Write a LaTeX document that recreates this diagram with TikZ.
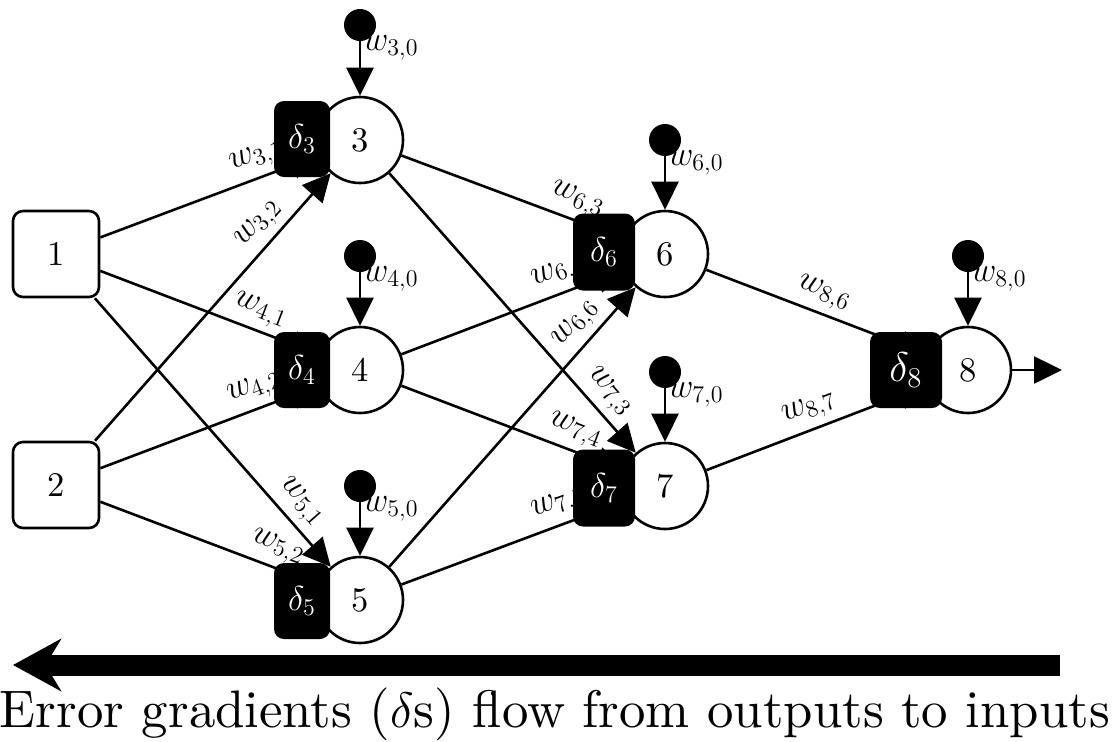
\documentclass[tikz,border=0pt]{standalone}
\usepackage{fontspec}
\setmainfont{lmroman10-regular.otf}
\usetikzlibrary{arrows.meta}
\begin{document}
\begin{tikzpicture}[x=0.5pt,y=-0.5pt,
  every node/.style={font=\LARGE},
  inbox/.style={draw,line width=1.3pt,rounded corners=5pt,minimum size=43pt,fill=white},
  neuron/.style={draw,circle,line width=1.3pt,minimum size=43pt,fill=white,inner sep=0pt},
  dbox/.style={fill=black,text=white,rounded corners=5pt,minimum width=28pt,minimum height=38pt,inner sep=0pt},
  biasdot/.style={circle,fill=black,minimum size=16pt,inner sep=0pt},
  arr/.style={line width=1.3pt,-{Triangle[length=14pt,width=13.5pt]}},
  wl/.style={pos=#1,sloped,above,inner sep=3pt},
  wl/.default=0.75,
  bl/.style={pos=0.12,right,inner sep=1pt}
]
\useasboundingbox (0,0) rectangle (1115,741);
% input nodes
\node[inbox] (n1) at (56,254) {1};
\node[inbox] (n2) at (56,485) {2};
% neurons
\node[neuron] (c3) at (360,140) {3};
\node[neuron] (c4) at (360,370) {4};
\node[neuron] (c5) at (360,600) {5};
\node[neuron] (c6) at (665,254) {6};
\node[neuron] (c7) at (665,486) {7};
\node[neuron] (c8) at (968,370) {8};
% connections
\draw[arr] (n1) -- (c3) node[wl=0.75]{$w_{3,1}$};
\draw[arr] (n2) -- (c3) node[wl=0.76]{$w_{3,2}$};
\draw[arr] (n1) -- (c4) node[wl=0.7]{$w_{4,1}$};
\draw[arr] (n2) -- (c4) node[wl=0.74]{$w_{4,2}$};
\draw[arr] (n1) -- (c5) node[wl=0.81]{$w_{5,1}$};
\draw[arr] (n2) -- (c5) node[wl=0.78]{$w_{5,2}$};
\draw[arr] (c3) -- (c6) node[wl=0.76]{$w_{6,3}$};
\draw[arr] (c4) -- (c6) node[wl=0.74]{$w_{6,4}$};
\draw[arr] (c5) -- (c6) node[wl=0.82]{$w_{6,6}$};
\draw[arr] (c3) -- (c7) node[wl=0.83]{$w_{7,3}$};
\draw[arr] (c4) -- (c7) node[wl=0.75]{$w_{7,4}$};
\draw[arr] (c5) -- (c7) node[wl=0.74]{$w_{7,5}$};
\draw[arr] (c6) -- (c8) node[wl=0.5]{$w_{8,6}$};
\draw[arr] (c7) -- (c8) node[wl=0.5]{$w_{8,7}$};
\coordinate (out) at (1062,370);
\draw[arr] (c8) -- (out);
% delta boxes
\node[dbox] (d3) at (302,139) {$\delta_3$};
\node[dbox] (d4) at (302,370) {$\delta_4$};
\node[dbox] (d5) at (302,601) {$\delta_5$};
\node[dbox,minimum width=31pt,minimum height=38.5pt] (d6) at (604,252) {$\delta_6$};
\node[dbox,minimum width=31pt,minimum height=38.5pt] (d7) at (604,488) {$\delta_7$};
\node[dbox,minimum width=36pt,font=\huge] (d8) at (906,370) {$\delta_8$};
% biases
\node[biasdot] (b3) at (360,25) {};
\node[biasdot] (b4) at (360,256) {};
\node[biasdot] (b5) at (360,486) {};
\node[biasdot] (b6) at (665,140) {};
\node[biasdot] (b7) at (665,372) {};
\node[biasdot] (b8) at (968,256) {};
\draw[arr] (b3) -- (c3) node[bl]{$w_{3,0}$};
\draw[arr] (b4) -- (c4) node[bl]{$w_{4,0}$};
\draw[arr] (b5) -- (c5) node[bl]{$w_{5,0}$};
\draw[arr] (b6) -- (c6) node[bl]{$w_{6,0}$};
\draw[arr] (b7) -- (c7) node[bl]{$w_{7,0}$};
\draw[arr] (b8) -- (c8) node[bl]{$w_{8,0}$};
% error flow
\coordinate (gR) at (1060,665);
\coordinate (gL) at (13,665);
\draw[line width=10.5pt,-{Stealth[length=24pt,width=26pt]}] (gR) -- (gL);
\node[font=\fontsize{26.4}{30}\selectfont,anchor=base] (cap) at (555,727) {Error gradients ($\delta$s) flow from outputs to inputs};
\end{tikzpicture}
\end{document}
